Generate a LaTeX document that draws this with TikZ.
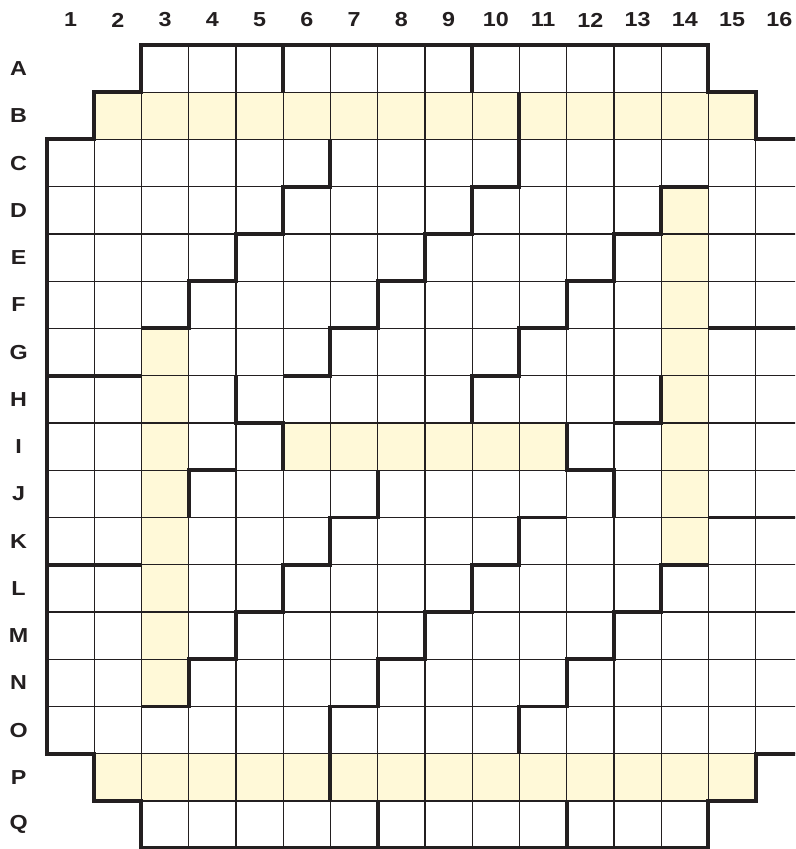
\documentclass[tikz,border=0pt]{standalone}
\usepackage{fontspec}
\setmainfont{Liberation Sans}
\newfontfamily\lblfont{Liberation Sans}[FakeStretch=1.15]
\definecolor{cream}{HTML}{FFF9D8}
\definecolor{ink}{HTML}{231F20}
\begin{document}
\begin{tikzpicture}[yscale=-1,every node/.style={font=\lblfont\bfseries\fontsize{12.2}{14}\selectfont,text=ink},
  wall/.style={draw=ink,line width=2.4pt,line join=miter},
  thin/.style={draw=ink,line width=0.7pt}]
  \clip (-0.994,-0.952) rectangle (15.835,17.016);
  % shaded cells
  \fill[cream] (1,1) rectangle (15,2) (1,15) rectangle (15,16);
  \fill[cream] (2,6) rectangle (3,14) (13,3) rectangle (14,11) (5,8) rectangle (11,9);
  % cell grid
  \draw[thin] (2,0) grid (14,1) (1,1) grid (15,2) (0,2) grid (16,15) (1,15) grid (15,16) (2,16) grid (14,17);
  % labels
  \foreach \c in {1,...,16} \node (c\c) at (\c-0.5,-0.53) {\c};
  \foreach \l [count=\r] in {A,...,Q} \node (r\l) at (-0.6,\r-0.5) {\l};
  % outline
  \draw[wall] (16,2) -- (15,2) -- (15,1) -- (14,1) -- (14,0) -- (2,0) -- (2,1) -- (1,1) -- (1,2) -- (0,2) -- (0,15)
    -- (1,15) -- (1,16) -- (2,16) -- (2,17) -- (14,17) -- (14,16) -- (15,16) -- (15,15) -- (16,15) -- cycle;
  % inner walls
  \draw[wall] (5,0) -- (5,1) (9,0) -- (9,1) (7,16) -- (7,17) (11,16) -- (11,17);
  \draw[wall] (0,7) -- (2,7) (0,11) -- (2,11) (14,6) -- (16,6) (14,10) -- (16,10);
  \draw[wall] (6,2) -- (6,3) -- (5,3) -- (5,4) -- (4,4) -- (4,5) -- (3,5) -- (3,6) -- (2,6);
  \draw[wall] (10,15) -- (10,14) -- (11,14) -- (11,13) -- (12,13) -- (12,12) -- (13,12) -- (13,11) -- (14,11);
  \draw[wall] (10,1) -- (10,3) -- (9,3) -- (9,4) -- (8,4) -- (8,5) -- (7,5) -- (7,6) -- (6,6) -- (6,7) -- (5,7);
  \draw[wall] (6,16) -- (6,14) -- (7,14) -- (7,13) -- (8,13) -- (8,12) -- (9,12) -- (9,11) -- (10,11) -- (10,10) -- (11,10);
  \draw[wall] (14,3) -- (13,3) -- (13,4) -- (12,4) -- (12,5) -- (11,5) -- (11,6) -- (10,6) -- (10,7) -- (9,7) -- (9,8);
  \draw[wall] (2,14) -- (3,14) -- (3,13) -- (4,13) -- (4,12) -- (5,12) -- (5,11) -- (6,11) -- (6,10) -- (7,10) -- (7,9);
  \draw[wall] (13,7) -- (13,8) -- (12,8) (3,10) -- (3,9) -- (4,9);
  \draw[wall] (11,8) -- (11,9) -- (12,9) -- (12,10) (5,9) -- (5,8) -- (4,8) -- (4,7);
\end{tikzpicture}
\end{document}
